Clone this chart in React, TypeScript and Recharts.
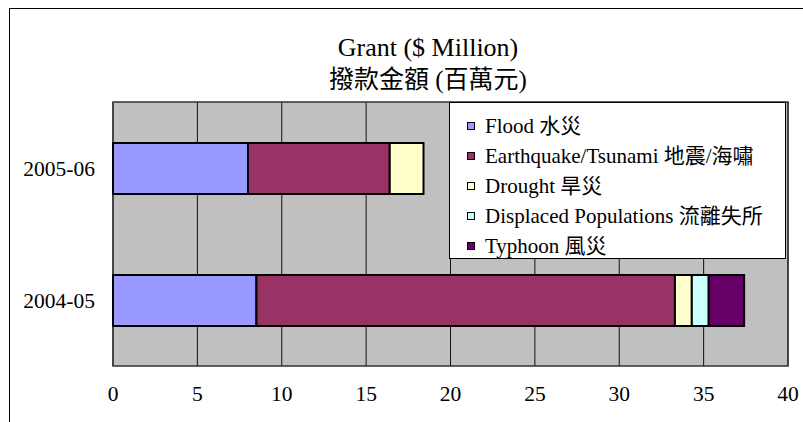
import { BarChart, Bar, XAxis, YAxis, CartesianGrid, Legend, ReferenceArea } from "recharts";

const CATEGORIES = ["2005-06", "2004-05"];
const FLOOD = [8.0, 8.5];
const QUAKE = [8.4, 24.8];
const DROUGHT = [2.0, 1.0];
const DISPLACED = [0, 1.0];
const TYPHOON = [0, 2.1];
const X_TICKS = [0, 5, 10, 15, 20, 25, 30, 35, 40];

const SERIES = [
  { key: "flood", name: "Flood 水災", color: "#9999ff", values: FLOOD },
  { key: "quake", name: "Earthquake/Tsunami 地震/海嘯", color: "#993366", values: QUAKE },
  { key: "drought", name: "Drought 旱災", color: "#ffffcc", values: DROUGHT },
  { key: "displaced", name: "Displaced Populations 流離失所", color: "#ccffff", values: DISPLACED },
  { key: "typhoon", name: "Typhoon 風災", color: "#660066", values: TYPHOON },
];

const data = CATEGORIES.map((year, i) => {
  const row: Record<string, string | number> = { year };
  SERIES.forEach((s) => (row[s.key] = s.values[i]));
  return row;
});

const FONT = "'Liberation Serif', 'Times New Roman', 'Noto Sans CJK TC', serif";

function LegendBox() {
  return (
    <div
      style={{
        width: 337,
        height: 157,
        background: "#fff",
        border: "1px solid #000",
        fontFamily: FONT,
        fontSize: 21,
        color: "#000",
        paddingTop: 8,
        boxSizing: "border-box",
      }}
    >
      {SERIES.map((s) => (
        <div key={s.key} style={{ display: "flex", alignItems: "center", height: 30, paddingLeft: 17 }}>
          <span
            style={{
              display: "inline-block",
              width: 6,
              height: 6,
              background: s.color,
              border: "1.5px solid #000",
              marginRight: 10,
              flexShrink: 0,
            }}
          />
          <span style={{ whiteSpace: "nowrap", lineHeight: "30px" }}>{s.name}</span>
        </div>
      ))}
    </div>
  );
}

export default function App() {
  return (
    <div style={{ position: "fixed", left: 0, top: 0, width: 803, height: 422, overflow: "hidden", background: "#fff" }}>
      <div
        style={{
          position: "absolute",
          left: 9,
          top: 8,
          width: 820,
          height: 440,
          borderLeft: "1px solid #000",
          borderTop: "1px solid #000",
        }}
      />
      <div style={{ position: "absolute", left: 228, width: 400, top: 32, textAlign: "center", fontFamily: FONT, fontSize: 26, lineHeight: "32px" }}>
        Grant ($ Million)
      </div>
      <div style={{ position: "absolute", left: 228, width: 400, top: 64, textAlign: "center", fontFamily: FONT, fontSize: 25, lineHeight: "32px" }}>
        撥款金額 (百萬元)
      </div>
      <div style={{ position: "absolute", left: 0, top: 0 }}>
        <BarChart
          width={803}
          height={422}
          data={data}
          layout="vertical"
          margin={{ top: 102, right: 15, bottom: 26, left: 13 }}
        >
          <CartesianGrid horizontal={false} stroke="#111" fill="#c0c0c0" />
          <XAxis
            type="number"
            domain={[0, 40]}
            ticks={X_TICKS}
            height={30}
            axisLine={false}
            tickLine={false}
            tickSize={0}
            tickMargin={20}
            tick={{ fill: "#000", fontSize: 21.5, fontFamily: FONT }}
          />
          <YAxis
            type="category"
            dataKey="year"
            width={100}
            axisLine={false}
            tickLine={false}
            tickSize={0}
            tickMargin={18}
            tick={{ fill: "#000", fontSize: 21.5, fontFamily: FONT }}
          />
          <ReferenceArea x1={0} x2={40} fill="none" stroke="#333" strokeWidth={1.5} ifOverflow="visible" />
          {SERIES.map((s) => (
            <Bar
              key={s.key}
              dataKey={s.key}
              name={s.name}
              stackId="a"
              fill={s.color}
              stroke="#000"
              strokeWidth={2}
              barSize={51}
              isAnimationActive={false}
            />
          ))}
          <Legend
            layout="horizontal"
            verticalAlign="middle"
            align="center"
            content={() => <LegendBox />}
            wrapperStyle={{ position: "absolute", left: 449, top: 102, width: 337, height: 157 }}
          />
        </BarChart>
      </div>
    </div>
  );
}
